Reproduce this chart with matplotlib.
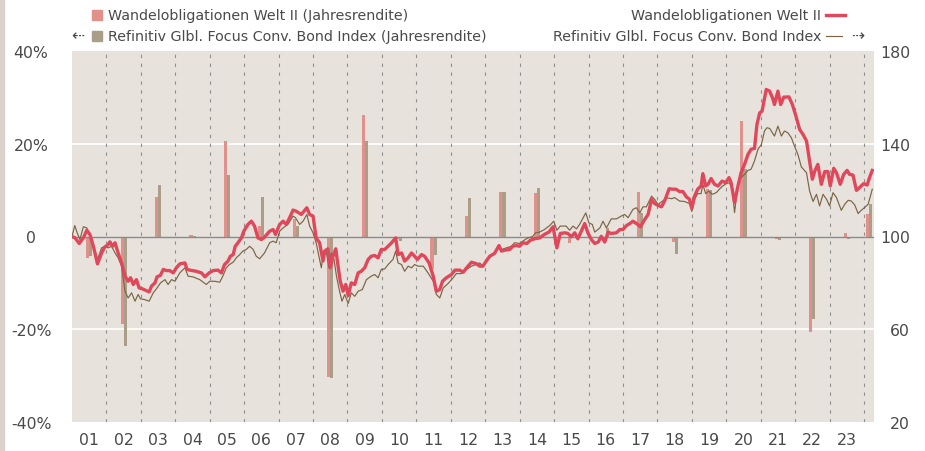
import matplotlib.pyplot as plt
from matplotlib.patches import Rectangle
from matplotlib.lines import Line2D

# Wandelobligationen Welt II, indexed (right axis), decimal year
fund_t = [2001.00, 2001.09, 2001.21, 2001.33, 2001.43, 2001.52, 2001.62, 2001.74, 2001.86, 2001.95,
          2002.05, 2002.10, 2002.18, 2002.25, 2002.34, 2002.44, 2002.54, 2002.63, 2002.70, 2002.78,
          2002.87, 2002.95, 2003.05, 2003.14, 2003.24, 2003.31, 2003.41, 2003.47, 2003.57, 2003.65,
          2003.74, 2003.84, 2003.94, 2004.03, 2004.13, 2004.28, 2004.34, 2004.42, 2004.61, 2004.76,
          2004.86, 2004.98, 2005.10, 2005.24, 2005.34, 2005.43, 2005.53, 2005.60, 2005.68, 2005.74,
          2005.82, 2005.92, 2005.99, 2006.11, 2006.21, 2006.30, 2006.40, 2006.50, 2006.59, 2006.74,
          2006.84, 2006.91, 2007.03, 2007.13, 2007.22, 2007.32, 2007.42, 2007.51, 2007.66, 2007.82,
          2007.90, 2008.00, 2008.09, 2008.19, 2008.29, 2008.34, 2008.43, 2008.50, 2008.58, 2008.66,
          2008.72, 2008.79, 2008.87, 2008.95, 2009.02, 2009.11, 2009.21, 2009.31, 2009.40, 2009.50,
          2009.60, 2009.69, 2009.79, 2009.89, 2009.98, 2010.08, 2010.18, 2010.28, 2010.40, 2010.47,
          2010.57, 2010.66, 2010.76, 2010.86, 2010.95, 2011.03, 2011.15, 2011.24, 2011.37, 2011.49,
          2011.58, 2011.68, 2011.76, 2011.87, 2012.02, 2012.12, 2012.26, 2012.36, 2012.46, 2012.60,
          2012.74, 2012.84, 2012.93, 2013.03, 2013.13, 2013.27, 2013.40, 2013.47, 2013.56, 2013.71,
          2013.80, 2013.90, 2014.00, 2014.09, 2014.21, 2014.31, 2014.43, 2014.58, 2014.72, 2014.85,
          2014.97, 2015.08, 2015.18, 2015.31, 2015.40, 2015.50, 2015.60, 2015.69, 2015.79, 2015.89,
          2015.98, 2016.08, 2016.18, 2016.28, 2016.37, 2016.47, 2016.57, 2016.66, 2016.81, 2016.91,
          2017.00, 2017.10, 2017.20, 2017.29, 2017.39, 2017.51, 2017.63, 2017.73, 2017.83, 2017.92,
          2018.02, 2018.12, 2018.21, 2018.34, 2018.45, 2018.54, 2018.64, 2018.74, 2018.84, 2018.93,
          2019.00, 2019.08, 2019.17, 2019.27, 2019.32, 2019.40, 2019.47, 2019.56, 2019.66, 2019.76,
          2019.88, 2019.98, 2020.08, 2020.14, 2020.24, 2020.34, 2020.43, 2020.53, 2020.63, 2020.72,
          2020.82, 2020.89, 2020.97, 2021.04, 2021.16, 2021.26, 2021.35, 2021.40, 2021.50, 2021.58,
          2021.67, 2021.82, 2021.92, 2022.01, 2022.13, 2022.23, 2022.33, 2022.42, 2022.50, 2022.57,
          2022.66, 2022.76, 2022.86, 2022.95, 2023.02, 2023.12, 2023.20, 2023.31, 2023.41, 2023.51,
          2023.58, 2023.68, 2023.78, 2023.87, 2023.99, 2024.09, 2024.16, 2024.24]
fund_idx = [100.0, 99.4, 97.0, 99.4, 102.7, 100.9, 95.8, 88.2, 92.9, 95.4,
            96.5, 97.7, 95.8, 97.3, 92.9, 88.6, 82.9, 80.7, 82.2, 79.3,
            81.4, 77.8, 77.4, 76.8, 76.1, 78.6, 80.0, 82.6, 83.3, 85.8,
            85.3, 85.3, 84.3, 86.5, 88.2, 88.6, 85.8, 85.5, 85.0, 84.3,
            82.6, 84.3, 85.3, 85.5, 84.3, 87.9, 89.4, 91.5, 92.2, 95.8,
            97.3, 99.4, 102.3, 105.2, 106.6, 104.5, 99.4, 98.7, 99.7, 102.3,
            103.0, 100.9, 105.2, 106.6, 105.2, 108.1, 111.4, 110.9, 109.5, 112.4,
            109.5, 108.8, 99.4, 97.3, 89.4, 93.7, 94.7, 86.5, 91.5, 94.7,
            87.9, 80.7, 76.4, 79.3, 74.5, 80.0, 79.3, 84.3, 85.0, 86.5,
            90.1, 91.5, 91.8, 90.8, 94.4, 94.4, 95.8, 97.3, 99.4, 92.2,
            92.9, 89.4, 90.8, 92.9, 91.5, 90.1, 92.2, 91.5, 88.6, 82.9,
            76.4, 77.1, 80.7, 82.2, 83.6, 85.5, 85.5, 84.6, 86.5, 88.9,
            88.3, 87.2, 87.2, 89.4, 91.5, 92.7, 96.1, 93.7, 94.1, 94.4,
            95.8, 96.1, 95.8, 97.3, 97.0, 98.4, 99.0, 99.4, 100.9, 101.9,
            104.2, 95.1, 101.3, 101.6, 101.3, 99.9, 101.6, 99.0, 102.3, 105.6,
            101.6, 98.7, 97.0, 97.6, 100.1, 97.6, 101.9, 101.3, 101.6, 103.0,
            103.0, 104.7, 105.6, 106.6, 105.6, 104.2, 107.3, 109.5, 116.0, 114.2,
            113.4, 112.8, 115.3, 120.6, 120.4, 120.4, 119.4, 119.4, 117.1, 116.1,
            112.2, 117.5, 120.4, 121.8, 127.1, 121.8, 122.5, 125.0, 122.5, 121.8,
            123.9, 123.2, 125.4, 123.2, 114.6, 121.8, 127.5, 131.1, 135.4, 137.6,
            138.0, 148.3, 153.3, 154.1, 163.4, 162.7, 159.5, 156.9, 162.7, 156.9,
            160.1, 160.2, 156.9, 152.6, 146.2, 144.0, 141.2, 132.6, 124.7, 128.2,
            131.1, 122.5, 128.0, 128.0, 121.8, 129.4, 127.5, 122.5, 126.8, 128.5,
            126.8, 126.5, 119.9, 121.1, 122.8, 122.2, 125.4, 128.5]

# Refinitiv Glbl. Focus Conv. Bond Index, indexed (right axis)
bench_t = [2001.00, 2001.08, 2001.15, 2001.23, 2001.33, 2001.43, 2001.52, 2001.62, 2001.74, 2001.86,
           2001.95, 2002.05, 2002.15, 2002.25, 2002.34, 2002.44, 2002.54, 2002.63, 2002.73, 2002.83,
           2002.92, 2002.99, 2003.11, 2003.24, 2003.36, 2003.47, 2003.57, 2003.70, 2003.79, 2003.89,
           2003.99, 2004.13, 2004.28, 2004.37, 2004.51, 2004.71, 2004.90, 2005.00, 2005.14, 2005.29,
           2005.38, 2005.48, 2005.57, 2005.68, 2005.77, 2005.87, 2005.96, 2006.06, 2006.16, 2006.26,
           2006.35, 2006.45, 2006.59, 2006.74, 2006.84, 2006.93, 2007.03, 2007.13, 2007.27, 2007.42,
           2007.49, 2007.61, 2007.71, 2007.82, 2007.90, 2008.00, 2008.09, 2008.17, 2008.24, 2008.31,
           2008.39, 2008.46, 2008.53, 2008.61, 2008.68, 2008.77, 2008.84, 2008.92, 2009.02, 2009.11,
           2009.21, 2009.31, 2009.43, 2009.55, 2009.69, 2009.79, 2009.89, 2009.98, 2010.08, 2010.18,
           2010.32, 2010.40, 2010.47, 2010.57, 2010.66, 2010.76, 2010.86, 2010.95, 2011.05, 2011.20,
           2011.34, 2011.49, 2011.58, 2011.68, 2011.78, 2011.92, 2012.07, 2012.16, 2012.31, 2012.46,
           2012.60, 2012.74, 2012.84, 2012.93, 2013.08, 2013.22, 2013.37, 2013.47, 2013.61, 2013.76,
           2013.85, 2014.00, 2014.09, 2014.24, 2014.37, 2014.46, 2014.58, 2014.72, 2014.87, 2014.99,
           2015.08, 2015.18, 2015.35, 2015.45, 2015.55, 2015.65, 2015.74, 2015.92, 2016.01, 2016.11,
           2016.18, 2016.33, 2016.42, 2016.52, 2016.66, 2016.81, 2016.95, 2017.05, 2017.15, 2017.29,
           2017.39, 2017.49, 2017.58, 2017.68, 2017.83, 2017.92, 2018.02, 2018.15, 2018.26, 2018.42,
           2018.50, 2018.64, 2018.79, 2018.93, 2019.00, 2019.08, 2019.17, 2019.27, 2019.32, 2019.40,
           2019.49, 2019.59, 2019.71, 2019.80, 2019.90, 2020.00, 2020.09, 2020.17, 2020.24, 2020.34,
           2020.43, 2020.53, 2020.63, 2020.72, 2020.82, 2020.92, 2021.02, 2021.11, 2021.18, 2021.26,
           2021.40, 2021.50, 2021.60, 2021.69, 2021.79, 2021.89, 2021.98, 2022.08, 2022.18, 2022.33,
           2022.42, 2022.52, 2022.62, 2022.71, 2022.81, 2022.91, 2023.00, 2023.10, 2023.20, 2023.34,
           2023.44, 2023.54, 2023.63, 2023.73, 2023.83, 2023.92, 2024.02, 2024.12, 2024.24]
bench_idx = [100.0, 104.7, 101.6, 98.7, 104.2, 103.7, 100.1, 96.5, 90.1, 95.1,
             95.8, 95.1, 95.8, 92.9, 90.8, 87.2, 76.4, 73.5, 75.7, 72.1,
             75.0, 73.1, 72.8, 72.1, 75.7, 77.8, 80.0, 81.4, 79.3, 81.4,
             80.7, 84.3, 86.5, 82.9, 82.6, 81.4, 79.3, 80.7, 80.7, 80.3,
             82.9, 86.5, 87.9, 88.9, 90.8, 92.2, 93.7, 94.4, 95.8, 94.4,
             91.5, 90.4, 92.9, 97.3, 98.0, 97.3, 102.3, 103.7, 105.2, 108.8,
             108.1, 105.2, 106.6, 109.5, 104.5, 101.6, 97.3, 91.5, 86.5, 93.7,
             92.9, 86.5, 92.9, 90.1, 82.9, 76.4, 72.1, 75.0, 71.1, 75.7,
             74.2, 76.4, 77.1, 81.4, 82.9, 83.6, 82.2, 85.8, 86.0, 87.9,
             90.1, 93.7, 88.6, 87.9, 85.0, 87.2, 86.5, 87.9, 87.2, 87.2,
             84.3, 80.7, 75.0, 73.5, 77.8, 79.7, 82.2, 84.0, 84.0, 85.8,
             87.2, 87.9, 88.6, 87.2, 90.1, 92.2, 95.1, 94.4, 95.1, 95.8,
             97.3, 97.0, 98.0, 99.4, 99.9, 101.6, 101.9, 103.0, 104.7, 106.6,
             102.7, 104.5, 104.5, 102.7, 104.5, 103.3, 105.2, 110.2, 105.9, 105.2,
             101.9, 103.7, 106.6, 103.7, 107.6, 107.6, 108.8, 109.5, 108.1, 111.7,
             112.4, 110.2, 112.8, 112.8, 117.4, 116.0, 113.8, 115.3, 116.7, 116.3,
             116.8, 115.3, 115.1, 114.2, 110.8, 116.1, 118.5, 118.5, 122.5, 118.5,
             119.6, 118.2, 118.9, 120.4, 121.8, 122.8, 123.2, 120.8, 110.3, 122.5,
             125.4, 126.8, 128.5, 129.0, 132.6, 137.6, 139.7, 145.5, 146.9, 146.6,
             143.3, 147.6, 143.3, 145.5, 144.7, 142.6, 139.0, 135.4, 130.0, 127.5,
             119.6, 115.1, 118.2, 113.2, 118.2, 116.1, 113.2, 118.9, 116.8, 111.3,
             113.9, 115.6, 115.3, 113.6, 109.9, 111.3, 112.5, 113.9, 120.4]

# calendar year returns in % (left axis), 2024 = year to date
bar_years = list(range(2001, 2025))
fund_ret = [-4.6, -18.8, 8.5, 0.4, 20.7, 2.2, 3.8, -30.4, 26.1, -0.6, -7.0, 4.5,
            9.5, 9.3, -1.3, -0.3, 9.5, -1.2, 10.2, 25.0, -0.6, -20.5, 0.7, 4.8]
bench_ret = [-4.2, -23.7, 11.0, 0.2, 13.2, 8.6, 2.2, -30.6, 20.7, -1.0, -4.0, 8.2,
             9.5, 10.4, -0.2, 1.8, 5.0, -3.7, 10.0, 14.5, -0.7, -17.7, -0.6, 7.0]

year_labels = ['01', '02', '03', '04', '05', '06', '07', '08', '09', '10', '11', '12',
               '13', '14', '15', '16', '17', '18', '19', '20', '21', '22', '23']
x_start, x_end = 2001.0, 2024.29

RED = '#e1475a'
PINK = '#e0918c'
TAUPE = '#ab9e89'
BROWN = '#7b6446'
BG = '#e7e2db'
TXT = '#4a4a4a'
FS = 10.3
TFS = 11.3

W, H = 925, 452
fig = plt.figure(figsize=(W / 100, H / 100), dpi=100)
ax = fig.add_axes([72 / W, 1 - 423 / H, 802 / W, 371 / H])
ax.set_facecolor(BG)
ax2 = ax.twinx()

# left strip
fig.patches.append(Rectangle((0, 0), 4 / W, 1, transform=fig.transFigure, color='#dad3cb', zorder=0))

ax.set_xlim(x_start, x_end)
ax.set_ylim(-40, 40)
ax2.set_ylim(20, 180)

for s in list(ax.spines.values()) + list(ax2.spines.values()):
    s.set_visible(False)

# grid
for g in (-20, 20):
    ax.axhline(g, color='white', lw=1.2, zorder=0.5)
for yr in range(2002, 2025):
    ax.axvline(yr, color='#8f8f8f', lw=0.8, dashes=(3, 5), zorder=0.6)
ax.axhline(0, color='#8a8a8a', lw=1.0, zorder=3)

# bars
pos = [y + 0.5 for y in bar_years[:-1]] + [(bar_years[-1] + x_end) / 2]
bw = 0.09
ax.bar([p - bw / 2 for p in pos], fund_ret, width=bw, color=PINK, zorder=2)
ax.bar([p + bw / 2 for p in pos], bench_ret, width=bw, color=TAUPE, zorder=2)

# lines
ax2.plot(bench_t, bench_idx, color=BROWN, lw=0.85, zorder=3)
ax2.plot(fund_t, fund_idx, color=RED, lw=2.4, zorder=4, solid_joinstyle='round')

# ticks
ax.set_xticks([y + 0.5 for y in bar_years[:-1]])
ax.set_xticklabels(year_labels, fontsize=TFS, color=TXT)
ax.tick_params(axis='x', length=0, pad=7.5)
ax.set_yticks([-40, -20, 0, 20, 40])
ax.set_yticklabels(['-40%', '-20%', '0', '20%', '40%'], fontsize=TFS, color=TXT)
ax.tick_params(axis='y', length=0, pad=29.5)
for t in ax.get_yticklabels():
    t.set_horizontalalignment('center')
ax2.set_yticks([20, 60, 100, 140, 180])
ax2.set_yticklabels(['20', '60', '100', '140', '180'], fontsize=TFS, color=TXT)
ax2.tick_params(axis='y', length=0, pad=26)
for t in ax2.get_yticklabels():
    t.set_horizontalalignment('right')

# legend (drawn by hand, figure pixel positions)
def fx(x):
    return x / W

def fy(y):
    return 1 - y / H

r1, r2 = 16, 37
fig.patches.append(Rectangle((fx(92), fy(r1 + 5)), fx(10), 10 / H, transform=fig.transFigure, color=PINK))
fig.patches.append(Rectangle((fx(92), fy(r2 + 5)), fx(10), 10 / H, transform=fig.transFigure, color=TAUPE))
fig.text(fx(108), fy(r1), 'Wandelobligationen Welt II (Jahresrendite)', fontsize=FS, color=TXT, va='center')
fig.text(fx(108), fy(r2), 'Refinitiv Glbl. Focus Conv. Bond Index (Jahresrendite)', fontsize=FS, color=TXT, va='center')
fig.text(fx(78), fy(r2), '\u21e0', fontsize=FS + 1, color=TXT, va='center', ha='center')

fig.text(fx(821), fy(r1), 'Wandelobligationen Welt II', fontsize=FS, color=TXT, va='center', ha='right')
fig.text(fx(821), fy(r2), 'Refinitiv Glbl. Focus Conv. Bond Index', fontsize=FS, color=TXT, va='center', ha='right')
fig.lines.append(Line2D([fx(826), fx(845)], [fy(r1), fy(r1)], transform=fig.transFigure, color=RED, lw=2.4))
fig.lines.append(Line2D([fx(826), fx(842)], [fy(r2), fy(r2)], transform=fig.transFigure, color=BROWN, lw=0.85))
fig.text(fx(858), fy(r2), '\u21e2', fontsize=FS + 1, color=TXT, va='center', ha='center')

fig.savefig('out.png', dpi=100)
